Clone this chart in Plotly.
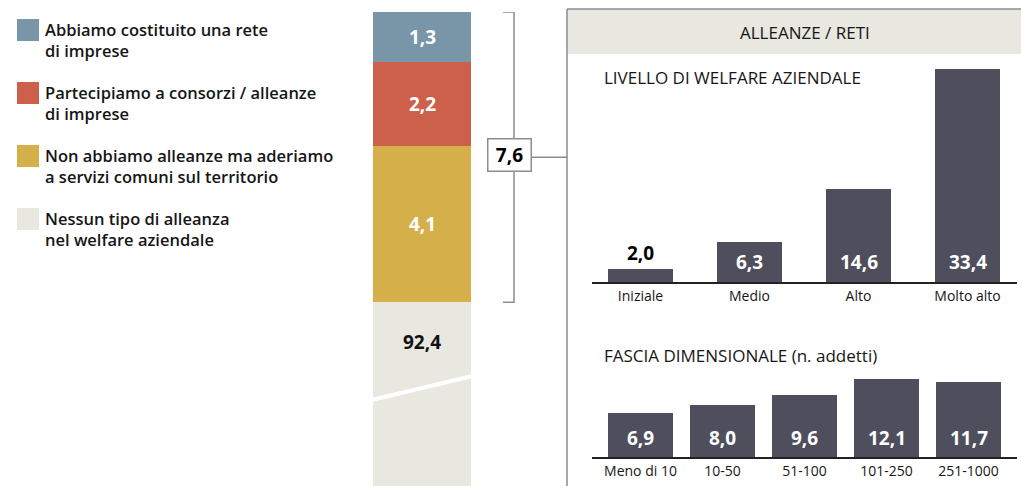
import plotly.graph_objects as go

# ---------------- data ----------------
seg_labels = [
    "Abbiamo costituito una rete<br>di imprese",
    "Partecipiamo a consorzi / alleanze<br>di imprese",
    "Non abbiamo alleanze ma aderiamo<br>a servizi comuni sul territorio",
    "Nessun tipo di alleanza<br>nel welfare aziendale",
]
seg_values = [1.3, 2.2, 4.1, 92.4]
seg_colors = ["#7896a8", "#cc604a", "#d4af4a", "#e8e7e0"]
seg_text_colors = ["#ffffff", "#ffffff", "#ffffff", "#111111"]
alleanze_total = 7.6

panel_title = "ALLEANZE / RETI"
livello_title = "LIVELLO DI WELFARE AZIENDALE"
livello_cats = ["Iniziale", "Medio", "Alto", "Molto alto"]
livello_vals = [2.0, 6.3, 14.6, 33.4]

fascia_title = "FASCIA DIMENSIONALE (n. addetti)"
fascia_cats = ["Meno di 10", "10-50", "51-100", "101-250", "251-1000"]
fascia_vals = [6.9, 8.0, 9.6, 12.1, 11.7]

# ---------------- layout helpers ----------------
W, H = 1021, 486
FONT = "Open Sans"
DARK = "#4f4e5c"
LINE = "#8c8b95"
TXT = "#161616"


def X(px):
    return px / W


def Y(py):
    return 1 - py / H


def fmt(v):
    return f"{v:.1f}".replace(".", ",")


fig = go.Figure()

# stacked bar (left)
for lab, val, col in zip(seg_labels, seg_values, seg_colors):
    fig.add_trace(go.Bar(x=[0], y=[val], width=1, marker=dict(color=col, line=dict(width=0)),
                         xaxis="x", yaxis="y", showlegend=False, name=lab.replace("<br>", " "),
                         hoverinfo="skip"))

# livello chart
fig.add_trace(go.Bar(x=livello_cats, y=livello_vals, width=0.596,
                     marker=dict(color=DARK, line=dict(width=0)),
                     xaxis="x2", yaxis="y2", showlegend=False, hoverinfo="skip"))
# fascia chart
fig.add_trace(go.Bar(x=fascia_cats, y=fascia_vals, width=0.793,
                     marker=dict(color=DARK, line=dict(width=0)),
                     xaxis="x3", yaxis="y3", showlegend=False, hoverinfo="skip"))

shapes = []
annotations = []

# panel header and border
shapes.append(dict(type="rect", xref="paper", yref="paper", x0=X(567), x1=1.0, y0=Y(54), y1=Y(9),
                   fillcolor="#e8e7e0", line=dict(width=0), layer="below"))
shapes.append(dict(type="line", xref="paper", yref="paper", x0=X(567), x1=X(567), y0=Y(9), y1=0,
                   line=dict(color=LINE, width=1.5)))
shapes.append(dict(type="line", xref="paper", yref="paper", x0=X(567), x1=1.0, y0=Y(9), y1=Y(9),
                   line=dict(color=LINE, width=1.5)))

# bracket around the alliance segments
shapes.append(dict(type="path", xref="paper", yref="y",
                   path=f"M {X(503)},0 L {X(514)},0 L {X(514)},{alleanze_total} L {X(503)},{alleanze_total}",
                   line=dict(color=LINE, width=1.5)))
shapes.append(dict(type="line", xref="paper", yref="y", x0=X(530), x1=X(567),
                   y0=alleanze_total / 2, y1=alleanze_total / 2, line=dict(color=LINE, width=1.5)))

# break mark on the large segment
shapes.append(dict(type="line", xref="paper", yref="paper", x0=X(363), y0=Y(402), x1=X(477), y1=Y(375),
                   line=dict(color="#ffffff", width=4)))

# legend (square + two-line text)
for i, (lab, col) in enumerate(zip(seg_labels, seg_colors)):
    top = 19 + 63 * i
    shapes.append(dict(type="rect", xref="paper", yref="paper", x0=X(17), x1=X(39),
                       y0=Y(top + 22), y1=Y(top), fillcolor=col, line=dict(width=0)))
    annotations.append(dict(xref="paper", yref="paper", x=X(44), y=Y(top + 21),
                            xanchor="left", yanchor="middle", text=lab, showarrow=False, align="left",
                            borderpad=0, font=dict(family=FONT, size=16.5, color=TXT, weight=600)))

# stacked segment labels
cum = 0
for val, tc in zip(seg_values[:3], seg_text_colors[:3]):
    annotations.append(dict(xref="x", yref="y", x=0, y=cum + val / 2, text=fmt(val), showarrow=False,
                            font=dict(family=FONT, size=19, color=tc, weight=700)))
    cum += val
annotations.append(dict(xref="x", yref="y", x=0, y=alleanze_total, yshift=-40, text=fmt(seg_values[3]),
                        showarrow=False, font=dict(family=FONT, size=19, color=seg_text_colors[3], weight=700)))

# total box
annotations.append(dict(xref="paper", yref="y", x=X(509), y=alleanze_total / 2, yshift=2,
                        text=fmt(alleanze_total), width=36, height=25,
                        showarrow=False, bgcolor="#ffffff", bordercolor=LINE, borderwidth=1.5, borderpad=3,
                        font=dict(family=FONT, size=19, color="#000000", weight=700)))

# titles
annotations.append(dict(xref="paper", yref="paper", x=X(805), y=Y(33), xanchor="center", yanchor="middle",
                        text=panel_title, showarrow=False, font=dict(family=FONT, size=17, color=TXT)))
annotations.append(dict(xref="paper", yref="paper", x=X(602), y=Y(77), xanchor="left", yanchor="middle",
                        text=livello_title, showarrow=False, font=dict(family=FONT, size=17, color=TXT)))
annotations.append(dict(xref="paper", yref="paper", x=X(602), y=Y(355), xanchor="left", yanchor="middle",
                        text=fascia_title, showarrow=False, font=dict(family=FONT, size=17, color=TXT)))

# bar value labels
for c, v in zip(livello_cats, livello_vals):
    if v < 4:
        annotations.append(dict(xref="x2", yref="y2", x=c, y=v, yanchor="bottom", yshift=1, text=fmt(v),
                                showarrow=False, font=dict(family=FONT, size=19, color="#000000", weight=700)))
    else:
        annotations.append(dict(xref="x2", yref="y2", x=c, y=0, yshift=20, text=fmt(v),
                                showarrow=False, font=dict(family=FONT, size=19, color="#ffffff", weight=700)))
for c, v in zip(fascia_cats, fascia_vals):
    annotations.append(dict(xref="x3", yref="y3", x=c, y=0, yshift=19, text=fmt(v),
                            showarrow=False, font=dict(family=FONT, size=19, color="#ffffff", weight=700)))

cat_axis = dict(showline=True, linecolor="#222222", linewidth=1.5, ticks="", showgrid=False, zeroline=False,
                tickfont=dict(family=FONT, size=14, color=TXT), fixedrange=True)
hidden = dict(visible=False, showgrid=False, zeroline=False, fixedrange=True)

fig.update_layout(
    width=W, height=H, margin=dict(l=0, r=0, t=0, b=0),
    paper_bgcolor="#ffffff", plot_bgcolor="rgba(0,0,0,0)",
    barmode="stack", bargap=0,
    xaxis=dict(domain=[X(373), X(471)], range=[-0.5, 0.5], **hidden),
    yaxis=dict(domain=[0, Y(12)], range=[12.41, 0], **hidden),
    xaxis2=dict(domain=[X(592), X(1017)], range=[-0.445, 3.454], anchor="y2", **cat_axis),
    yaxis2=dict(domain=[Y(282), Y(60)], range=[0, 34.85], anchor="x2", **hidden),
    xaxis3=dict(domain=[X(592), X(1017)], range=[-0.591, 4.59], anchor="y3", **cat_axis),
    yaxis3=dict(domain=[Y(457), Y(370)], range=[0, 13.49], anchor="x3", **hidden),
    shapes=shapes, annotations=annotations,
    font=dict(family=FONT, color=TXT),
)

fig.write_html("out.html", config={"displayModeBar": False},
               post_script="document.body.style.margin='0';document.body.style.overflow='hidden';")
